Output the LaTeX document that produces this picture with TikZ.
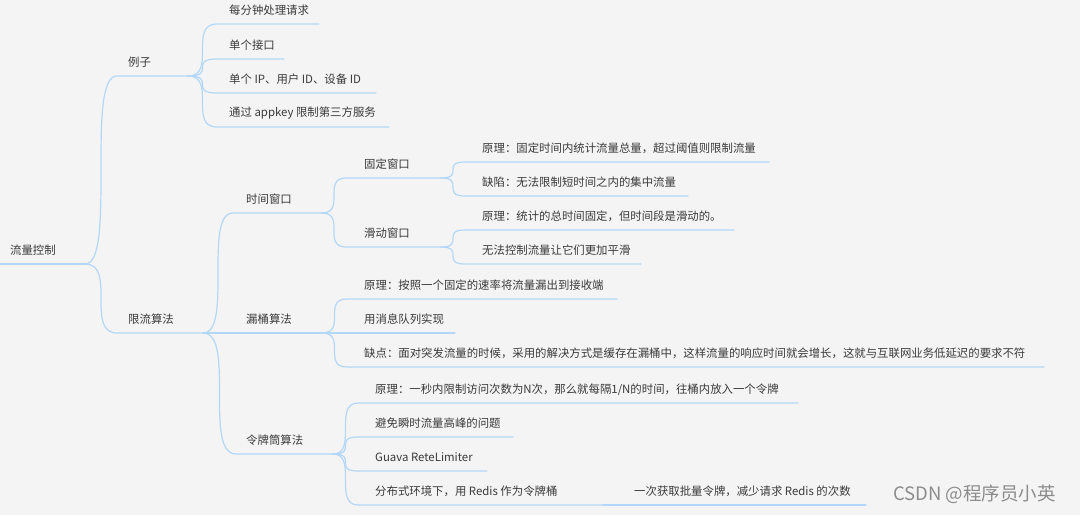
\documentclass[tikz,border=0pt]{standalone}
\usepackage{fontspec}
\setmainfont{Noto Sans CJK SC}
\usetikzlibrary{calc}
\definecolor{bg}{HTML}{F4F4F4}
\definecolor{ln}{HTML}{B3D7F8}
\definecolor{tx}{HTML}{3A3A3A}
\definecolor{wm}{HTML}{8C8C8C}
\tikzset{
  txt/.style={font=\fontsize{11.4}{13}\selectfont, text=tx, inner sep=0pt, anchor=west},
  link/.style={draw=ln, line width=1.2pt, line cap=round},
  mark2/.style={text=wm, font=\fontsize{18.5}{20}\selectfont, inner sep=0pt, anchor=west}
}
% name, text x, line y, line start x, line end x, text
\newcommand\mm[6]{%
  \node[txt] (#1) at (#2,#3-13.5) {#6};
  \coordinate (#1S) at (#4,#3);
  \coordinate (#1E) at (#5,#3);
}
\newcommand\lk[2]{\draw[link] (#1E) .. controls (#1E -| #2S) and (#2S -| #1E) .. (#2S) -- (#2E);}
\begin{document}
\begin{tikzpicture}[x=1pt,y=-1pt]
\fill[bg] (0,0) rectangle (1080,515);
\useasboundingbox (0,0) rectangle (1080,515);
% root
\mm{root}{10}{264}{0}{85}{流量控制}
\draw[link] (rootS) -- (rootE);
% level 2
\mm{ex}{128}{76}{117}{188}{例子}
\mm{alg}{128}{333}{117}{203}{限流算法}
\lk{root}{ex}
\lk{root}{alg}
% examples
\mm{exa}{229}{24}{217}{319}{每分钟处理请求}
\mm{exb}{229}{59}{217}{284}{单个接口}
\mm{exc}{229}{93}{217}{376}{单个 IP、用户 ID、设备 ID}
\mm{exd}{229}{127}{217}{389}{通过 appkey 限制第三方服务}
\lk{ex}{exa}
\lk{ex}{exb}
\lk{ex}{exc}
\lk{ex}{exd}
% level 3 under alg
\mm{tw}{246}{213}{233}{322}{时间窗口}
\mm{lb}{246}{333}{203}{322}{漏桶算法}
\mm{lp}{246}{454}{236}{333}{令牌筒算法}
\lk{alg}{tw}
\lk{alg}{lb}
\lk{alg}{lp}
% time windows
\mm{gd}{364}{178}{346}{441}{固定窗口}
\mm{hd}{364}{247}{346}{441}{滑动窗口}
\lk{tw}{gd}
\lk{tw}{hd}
\mm{gda}{482}{162}{465}{769}{原理：固定时间内统计流量总量，超过阈值则限制流量}
\mm{gdb}{482}{196}{465}{688}{缺陷：无法限制短时间之内的集中流量}
\lk{gd}{gda}
\lk{gd}{gdb}
\mm{hda}{482}{230}{465}{734}{原理：统计的总时间固定，但时间段是滑动的。}
\mm{hdb}{482}{264}{465}{641}{无法控制流量让它们更加平滑}
\lk{hd}{hda}
\lk{hd}{hdb}
% leaky bucket
\mm{lba}{364}{299}{347}{617}{原理：按照一个固定的速率将流量漏出到接收端}
\mm{lbb}{364}{333}{322}{455}{用消息队列实现}
\mm{lbc}{364}{367}{347}{1044}{缺点：面对突发流量的时候，采用的解决方式是缓存在漏桶中，这样流量的响应时间就会增长，这就与互联网业务低延迟的要求不符}
\lk{lb}{lba}
\lk{lb}{lbb}
\lk{lb}{lbc}
% token bucket
\mm{lpa}{375}{403}{358}{798}{原理：一秒内限制访问次数为N次，那么就每隔1/N的时间，往桶内放入一个令牌}
\mm{lpb}{375}{437}{358}{513}{避免瞬时流量高峰的问题}
\mm{lpc}{375}{471}{358}{487}{Guava ReteLimiter}
\mm{lpd}{375}{505}{358}{603}{分布式环境下，用 Redis 作为令牌桶}
\lk{lp}{lpa}
\lk{lp}{lpb}
\lk{lp}{lpc}
\lk{lp}{lpd}
\mm{lpe}{634}{505}{603}{866}{一次获取批量令牌，减少请求 Redis 的次数}
\lk{lpd}{lpe}
% watermark
\node[mark2] (wmk) at (893,494) {CSDN @程序员小英};
\end{tikzpicture}
\end{document}
